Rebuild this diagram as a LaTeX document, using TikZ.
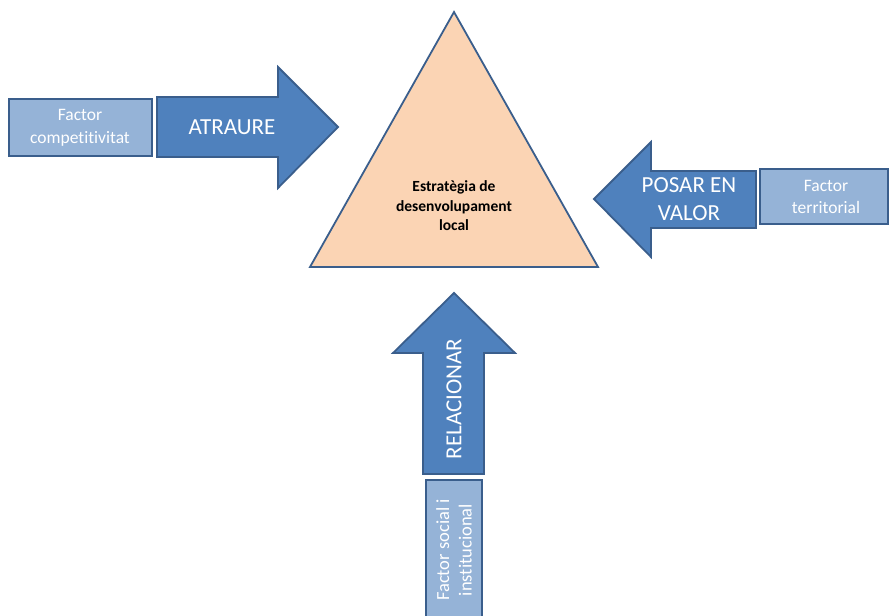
\documentclass[tikz,border=0pt]{standalone}
\usepackage{fontspec}
\setmainfont{Carlito}[Ligatures=NoCommon]
\begin{document}
\begin{tikzpicture}[x=1pt,y=-1pt,
  line join=miter,
  outl/.style={draw=edgeblue,line width=1.8pt},
  bigarrow/.style={outl,fill=arrowblue},
  factorbox/.style={outl,fill=boxblue},
  whitetext/.style={text=white,align=center,inner sep=0pt},
  boxtext/.style={whitetext,font=\fontsize{17.5}{22.5}\selectfont},
  arrowtext/.style={whitetext,font=\fontsize{23}{28}\selectfont},
]
\definecolor{arrowblue}{HTML}{4F81BD}
\definecolor{edgeblue}{HTML}{3A5E8C}
\definecolor{boxblue}{HTML}{95B3D7}
\definecolor{tan}{HTML}{FBD4B4}
\useasboundingbox (0,0) rectangle (890,615);

% central triangle
\draw[outl,fill=tan] (454,12) -- (598,267) -- (310,267) -- cycle;
\node[align=center,inner sep=0pt,font=\bfseries\fontsize{15.5}{19.5}\selectfont] (strategy) at (454,206)
  {Estratègia de\\desenvolupament\\local};

% left: competitiveness factor and arrow
\draw[factorbox] (9,99) rectangle (152,156);
\node[boxtext] (competitivitat) at (80,128) {Factor\\competitivitat};
\draw[bigarrow] (157,97) -- (278,97) -- (278,67) -- (338,127) -- (278,188) -- (278,157) -- (157,157) -- cycle;
\node[arrowtext] (atraure) at (232,127) {ATRAURE};

% right: territorial factor and arrow
\draw[bigarrow] (756,171) -- (651,171) -- (651,142) -- (594,199) -- (651,257) -- (651,228) -- (756,228) -- cycle;
\node[arrowtext] (valor) at (689,199) {POSAR EN\\VALOR};
\draw[factorbox] (760,169) rectangle (888,224);
\node[boxtext] (territorial) at (826,197) {Factor\\territorial};

% bottom: social and institutional factor and arrow
\draw[bigarrow] (423,474) -- (423,353) -- (393,353) -- (454,293) -- (515,353) -- (484,353) -- (484,474) -- cycle;
\node[arrowtext,rotate=90] (relacionar) at (454,399) {RELACIONAR};
\draw[factorbox] (426,480) rectangle (482,620);
\node[boxtext,rotate=90,font=\fontsize{18.5}{22.5}\selectfont] (social) at (454,550) {Factor social i\\institucional};
\end{tikzpicture}
\end{document}
